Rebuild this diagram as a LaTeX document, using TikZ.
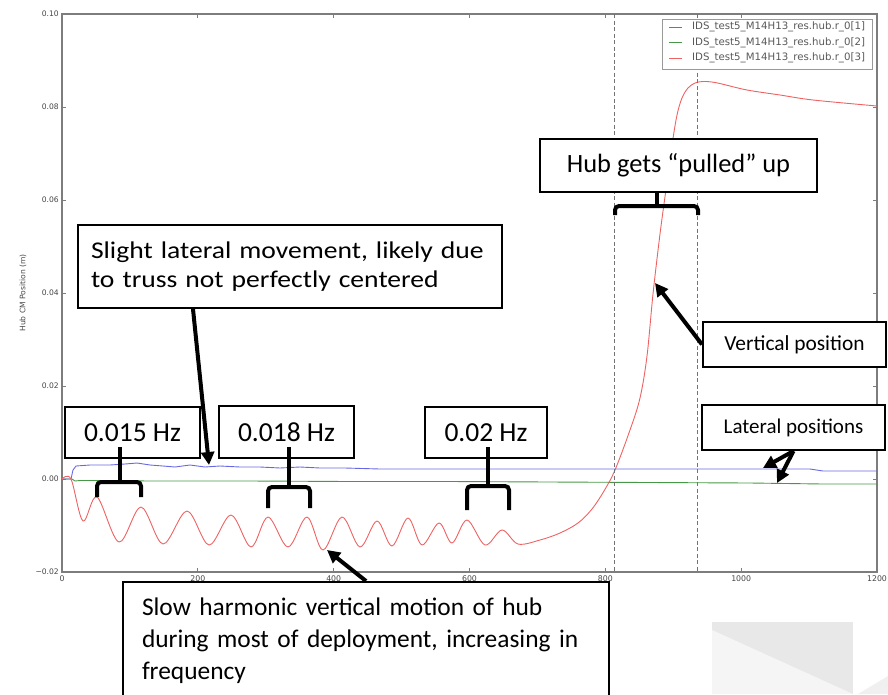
\documentclass[tikz,border=0pt]{standalone}
\usepackage{fontspec}
\setmainfont{Carlito}
\newfontfamily\widefont[FakeStretch=1.15]{Carlito}
\newfontfamily\plotfont{DejaVu Sans}
\usetikzlibrary{arrows.meta}

\definecolor{plotred}{RGB}{238,98,98}
\definecolor{plotblue}{RGB}{104,104,228}
\definecolor{plotgreen}{RGB}{70,152,70}
\definecolor{spine}{RGB}{125,125,125}
\definecolor{ticktext}{RGB}{70,70,70}

% one horizontal curly bracket: stem coordinate, bar y, left x, right x, end y
\newcommand{\spanbrace}[5]{%
  \draw[bracestyle] (#3,#5) -- (#3,#2) -- (#4,#2) -- (#4,#5);
  \draw[bracestyle, rounded corners=0pt] (#1) -- (#1 |- 0,#2);
}

\begin{document}
\begin{tikzpicture}[x=1pt, y=-1pt,
  spinestyle/.style={draw=spine, line width=1.2pt},
  tickstyle/.style={draw=spine, line width=0.8pt},
  ylab/.style={font=\plotfont\fontsize{7.6}{9}\selectfont, text=ticktext, anchor=east, inner sep=0pt},
  xlab/.style={font=\plotfont\fontsize{7.8}{9}\selectfont, text=ticktext, anchor=north, inner sep=0pt},
  legtext/.style={font=\plotfont\fontsize{10.2}{12}\selectfont, text=black!65, anchor=west, inner sep=0pt},
  vline/.style={draw=black!55, line width=0.8pt, dash pattern=on 4pt off 2.5pt},
  curve/.style={line width=0.9pt, line join=round},
  callout/.style={draw=black, line width=2pt, fill=white, inner sep=0pt},
  bracestyle/.style={line width=4pt, rounded corners=4pt},
  pointer/.style={line width=4pt, -{Triangle[length=13pt, width=13pt]}},
]
\useasboundingbox (0,0) rectangle (888,694);

% logo mark in the lower right corner
\fill[black!9] (712,622) rectangle (853,694);
\fill[black!4] (712,630) -- (853,694) -- (712,694) -- cycle;
\fill[black!6] (858,694) -- (888,676) -- (888,694) -- cycle;

% ---- axes frame, ticks and tick labels ----
\draw[spinestyle] (62,14) rectangle (877,572);
\foreach \y/\lab [count=\i] in {14/0.10, 107/0.08, 200/0.06, 293/0.04, 386/0.02, 479/0.00, 572/−0.02} {
  \draw[tickstyle] (62,\y) -- ++(4,0);
  \draw[tickstyle] (877,\y) -- ++(-4,0);
  \node[ylab] (yt\i) at (59,\y) {\lab};
}
\foreach \x/\lab [count=\i] in {62/0, 197.8/200, 333.7/400, 469.5/600, 605.3/800, 741.2/1000, 877/1200} {
  \draw[tickstyle] (\x,572) -- ++(0,-4);
  \draw[tickstyle] (\x,14) -- ++(0,4);
  \node[xlab] (xt\i) at (\x,575) {\lab};
}
\node[font=\plotfont\fontsize{7.6}{9}\selectfont, text=ticktext, rotate=90, inner sep=0pt] (ytitle) at (23,293) {Hub CM Position (m)};

% ---- data ----
\draw[curve, plotgreen] plot coordinates {(62,479) (72,479) (75,481) (80,480.5) (100,480.5) (150,481) (250,481) (350,481.5) (450,481.5) (550,482) (650,482.5) (750,483) (823,484) (877,484)};
\draw[curve, plotblue] plot coordinates {(62,479) (71,479) (73,470) (76,466) (90,465) (110,465) (125,464) (137,463) (150,465) (163,466) (175,467) (190,465) (205,467) (220,466) (240,467) (260,467) (280,468) (300,467) (320,468) (345,468) (380,469) (450,469) (550,469) (650,469) (750,469) (810,469) (823,471) (877,471)};
\draw[curve, plotred] plot[smooth, tension=0.55] coordinates {
  (62,479) (71,479) (83,521) (97,497) (119,542) (141,507) (163,544) (187,511)
  (209,545) (231,515) (251,547) (268,517) (288,547) (307,517) (323,550) (342,517)
  (360,547) (377,521) (392,546) (408,518) (422,545) (439,523) (452,543) (467,520)
  (485,545) (502,530) (518,544) (540,540) (560,533) (578,523) (592,509) (604,491)
  (615,470) (630,430) (640,398) (647,356) (653,294) (660,234) (667,182) (672,145)
  (677,115) (682,98) (688,88) (695,83) (703,81.5) (712,82) (722,84) (747,90)
  (780,95) (813,100) (877,106)};

% event markers
\draw[vline] (614,14) -- (614,572);
\draw[vline] (697,14) -- (697,572);

% ---- legend ----
\node[draw=black!40, line width=0.8pt, fill=white, minimum width=210, minimum height=50, inner sep=0pt] (legend) at (767,44) {};
\draw[curve, plotblue]  (669,27) -- (682,27);
\draw[curve, plotgreen] (669,42.5) -- (682,42.5);
\draw[curve, plotred]   (669,58) -- (682,58);
\node[legtext] (leg1) at (692,27)   {IDS\_test5\_M14H13\_res.hub.r\_0[1]};
\node[legtext] (leg2) at (692,42.5) {IDS\_test5\_M14H13\_res.hub.r\_0[2]};
\node[legtext] (leg3) at (692,58)   {IDS\_test5\_M14H13\_res.hub.r\_0[3]};

% ---- annotations ----
\node[callout, minimum width=277, minimum height=53, font=\fontsize{26.4}{31}\selectfont] (hub) at (678.5,165.5) {Hub gets “pulled” up};
\coordinate (hubstem) at (657,192);
\spanbrace{hubstem}{206}{615}{698}{215}

\node[callout, minimum width=424, minimum height=83, text width=398, align=left,
      font=\widefont\fontsize{24}{29}\selectfont] (slight) at (290,266.5)
  {Slight lateral movement, likely due\\to truss not perfectly centered};
\coordinate (tipdrift) at (209,465);
\draw[pointer] ([xshift=-97pt]slight.south) -- (tipdrift);

\node[callout, minimum width=135, minimum height=51, font=\fontsize{27.5}{32}\selectfont] (fa) at (132.5,432.5) {0.015 Hz};
\node[callout, minimum width=135, minimum height=52, font=\fontsize{27.5}{32}\selectfont] (fb) at (286.5,432) {0.018 Hz};
\node[callout, minimum width=122, minimum height=51, font=\fontsize{27.5}{32}\selectfont] (fc) at (486,432.5) {0.02 Hz};
\coordinate (fastem) at (120,447);
\coordinate (fbstem) at (289,447);
\coordinate (fcstem) at (488,447);
\spanbrace{fastem}{482}{97}{141}{497}
\spanbrace{fbstem}{487}{268}{310}{508}
\spanbrace{fcstem}{486}{467}{509}{510}

\node[callout, minimum width=183, minimum height=45, font=\fontsize{21.4}{25}\selectfont] (vert) at (794.5,344.5) {Vertical position};
\coordinate (tipvert) at (655,283);
\draw[pointer] (vert.west) -- (tipvert);

\node[callout, minimum width=183, minimum height=45, font=\fontsize{21}{25}\selectfont] (lat) at (793.5,427.5) {Lateral positions};
\coordinate (tiplatA) at (763,468);
\coordinate (tiplatB) at (777,483);
\draw[pointer] (lat.south) -- (tiplatA);
\draw[pointer] (lat.south) -- (tiplatB);

\node[callout, minimum width=486, minimum height=118, text width=448, align=left,
      font=\fontsize{25.4}{32}\selectfont] (slow) at (366,641)
  {Slow harmonic vertical motion of hub\\during most of deployment, increasing in\\frequency};
\coordinate (tipslow) at (327,550);
\draw[pointer] (slow.north) -- (tipslow);

\end{tikzpicture}
\end{document}
